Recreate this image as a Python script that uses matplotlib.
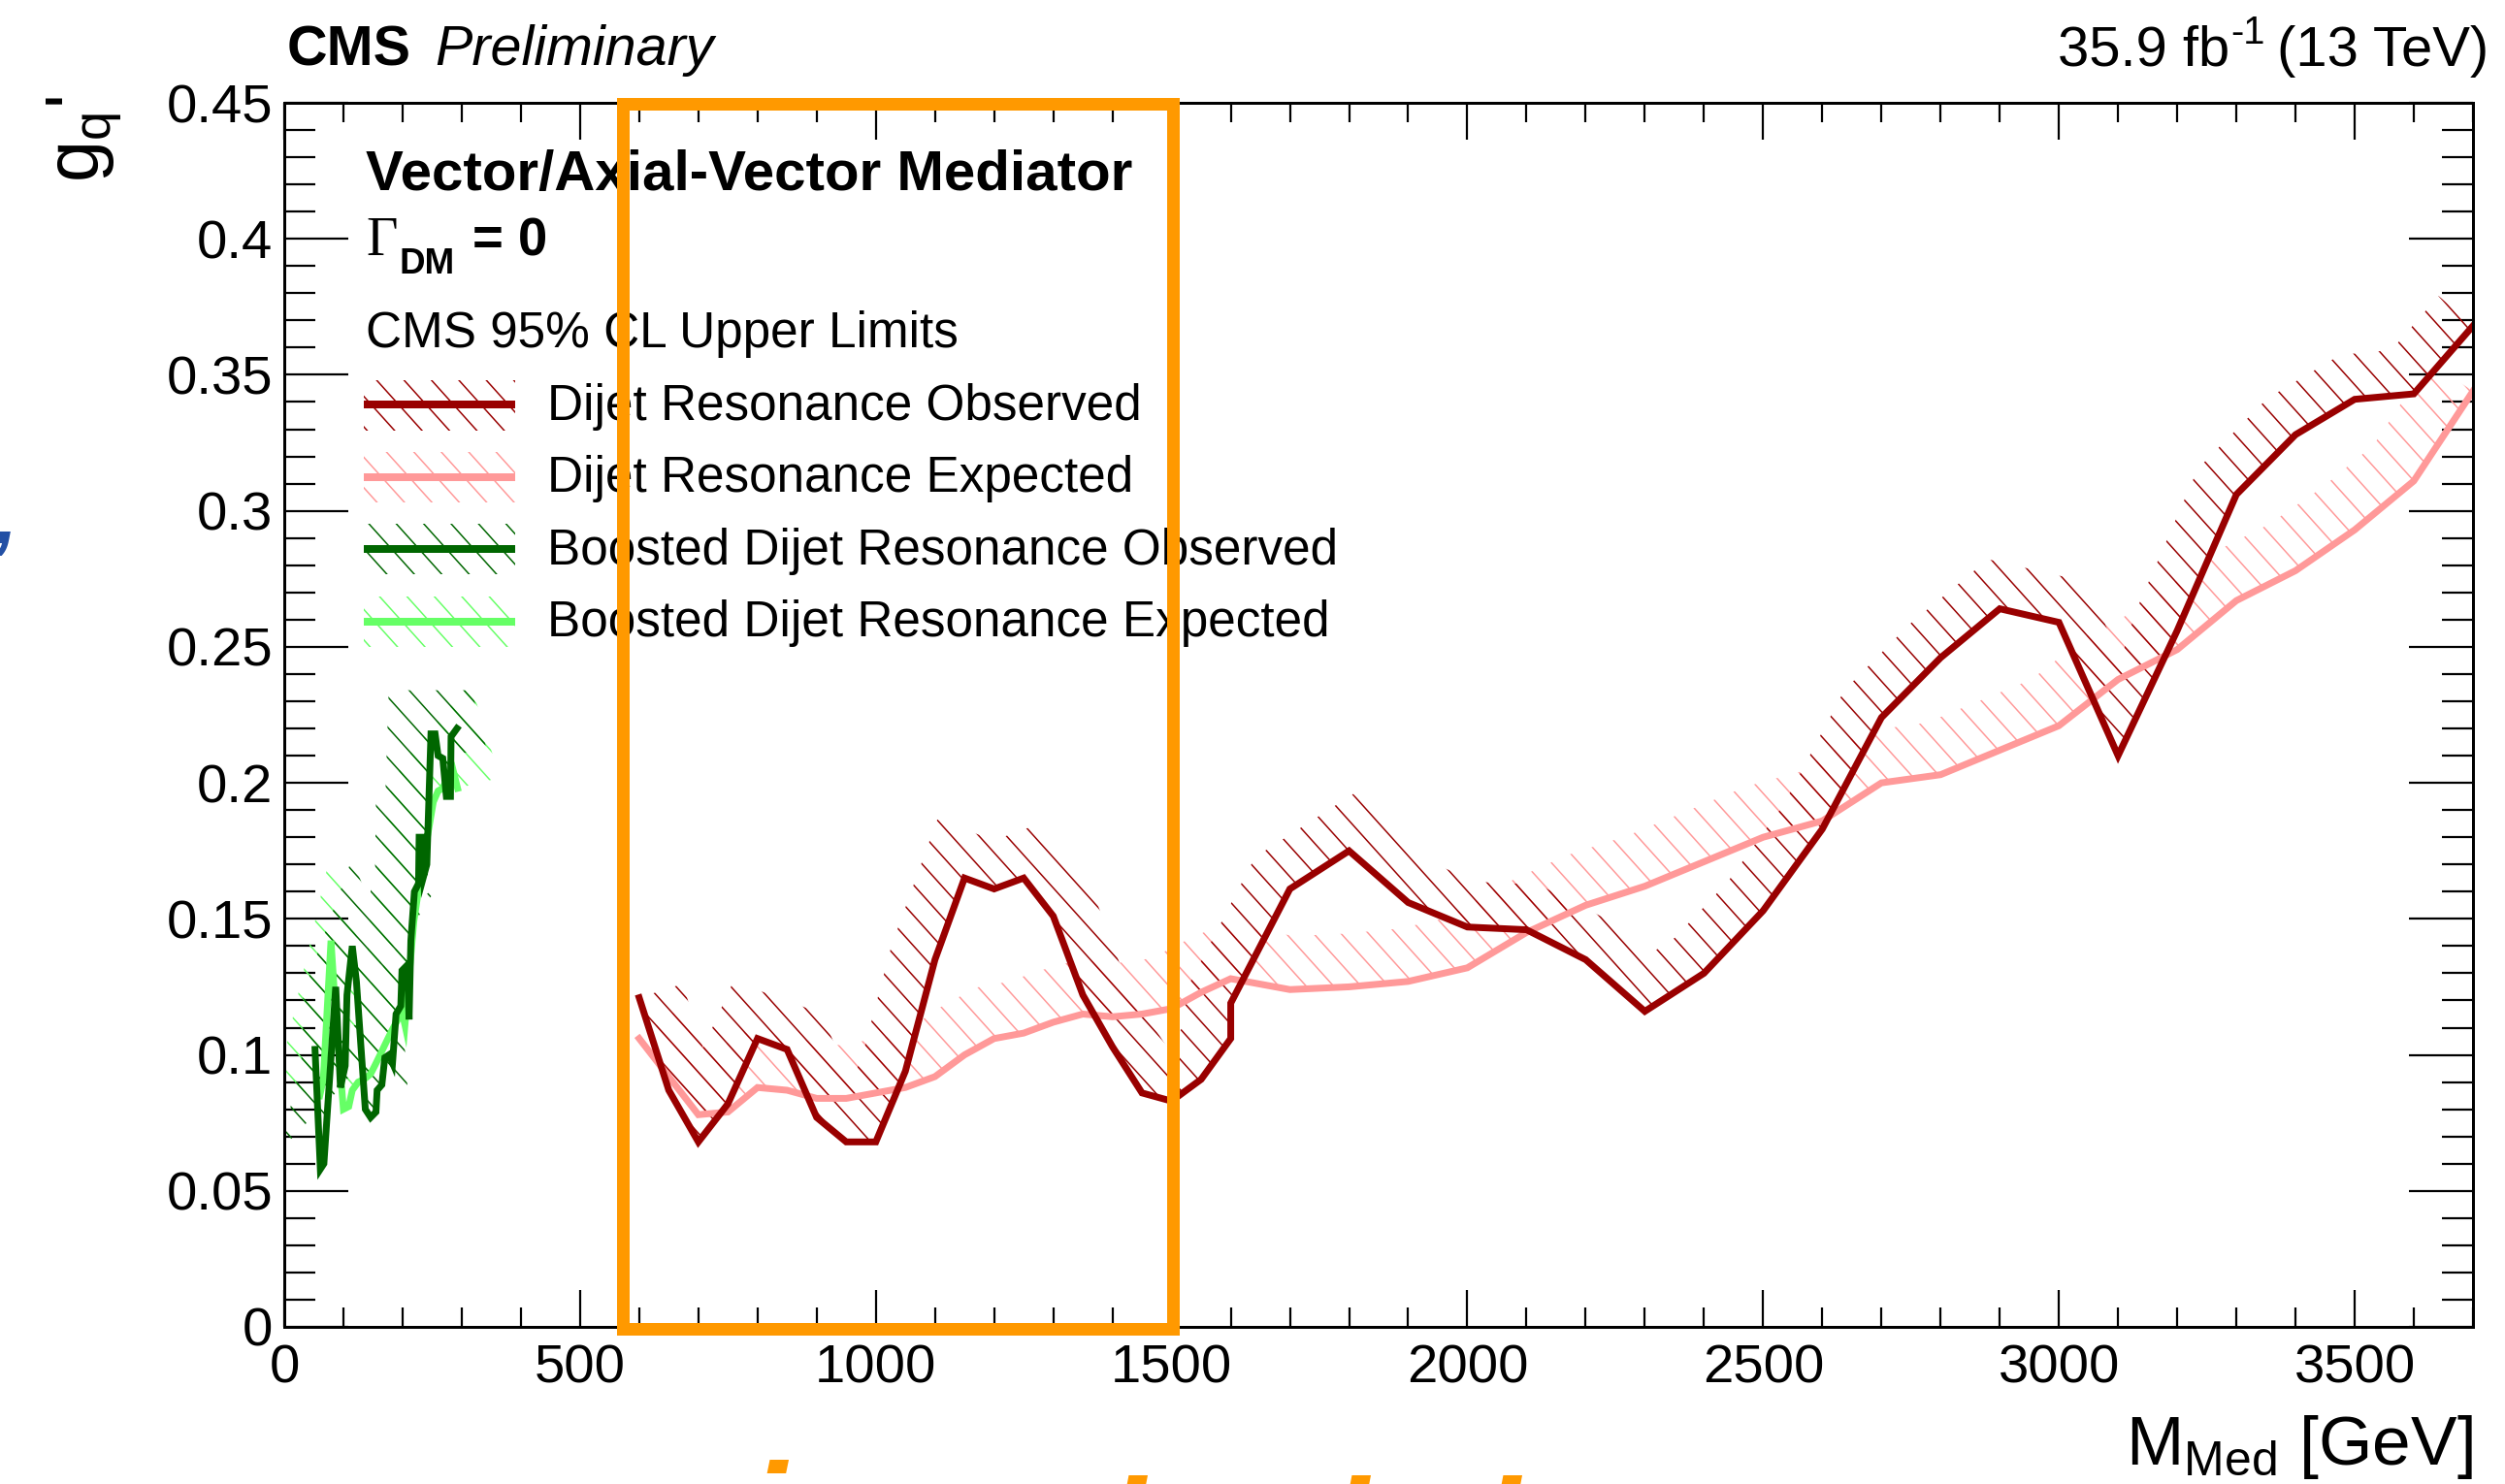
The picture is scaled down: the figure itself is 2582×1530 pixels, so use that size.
import numpy as np
import matplotlib
matplotlib.use("Agg")
import matplotlib.pyplot as plt
from matplotlib.patches import Polygon, Rectangle
from matplotlib.lines import Line2D
from matplotlib.collections import LineCollection
from matplotlib.transforms import IdentityTransform
from matplotlib.ticker import MultipleLocator, FuncFormatter

# ---------------- data ----------------
dijet_obs_mass = [600, 650, 700, 750, 800, 850, 900, 950, 1000, 1050, 1100, 1150, 1200,
                  1250, 1300, 1350, 1400, 1450, 1500, 1550, 1600, 1600, 1700, 1800, 1900,
                  2000, 2100, 2200, 2300, 2400, 2500, 2600, 2700, 2800, 2900, 3000, 3100,
                  3200, 3300, 3400, 3500, 3600, 3700]
dijet_obs_gq = [0.121, 0.087, 0.068, 0.082, 0.106, 0.102, 0.077, 0.068, 0.068, 0.094, 0.135,
                0.165, 0.161, 0.165, 0.151, 0.122, 0.103, 0.086, 0.083, 0.091, 0.106, 0.119,
                0.161, 0.175, 0.156, 0.147, 0.146, 0.135, 0.116, 0.130, 0.153, 0.183, 0.224,
                0.246, 0.264, 0.259, 0.210, 0.256, 0.306, 0.328, 0.341, 0.343, 0.368]

dijet_exp_mass = [600, 650, 700, 750, 800, 850, 900, 950, 1000, 1050, 1100, 1150, 1200,
                  1250, 1300, 1350, 1400, 1450, 1500, 1550, 1600, 1700, 1800, 1900, 2000,
                  2100, 2200, 2300, 2400, 2500, 2600, 2700, 2800, 2900, 3000, 3100, 3200,
                  3300, 3400, 3500, 3600, 3700]
dijet_exp_gq = [0.106, 0.092, 0.078, 0.079, 0.088, 0.087, 0.084, 0.084, 0.086, 0.088, 0.092,
                0.100, 0.106, 0.108, 0.112, 0.115, 0.114, 0.115, 0.117, 0.123, 0.128, 0.124,
                0.125, 0.127, 0.132, 0.145, 0.155, 0.162, 0.171, 0.180, 0.186, 0.200, 0.203,
                0.212, 0.221, 0.238, 0.249, 0.267, 0.278, 0.293, 0.311, 0.344]

boosted_obs_mass = [52, 61, 67, 87, 95, 103, 106, 115, 122, 129, 137, 146, 155, 157, 165, 170,
                    177, 183, 189, 197, 199, 208, 211, 214, 220, 227, 228, 234, 236, 241, 248,
                    255, 260, 268, 274, 281, 282, 292]
boosted_obs_gq = [0.102, 0.058, 0.060, 0.125, 0.088, 0.096, 0.122, 0.140, 0.127, 0.105, 0.080,
                  0.077, 0.079, 0.087, 0.089, 0.099, 0.100, 0.097, 0.115, 0.118, 0.131, 0.133,
                  0.113, 0.142, 0.160, 0.163, 0.180, 0.180, 0.166, 0.170, 0.218, 0.218, 0.210,
                  0.209, 0.195, 0.195, 0.217, 0.220]

boosted_exp_mass = [60, 66, 79, 87, 100, 109, 115, 125, 135, 146, 153, 162, 173, 182, 192, 199,
                    204, 209, 219, 230, 241, 252, 260, 268, 278, 285, 293]
boosted_exp_gq = [0.085, 0.091, 0.142, 0.115, 0.080, 0.081, 0.087, 0.090, 0.091, 0.093, 0.096,
                  0.100, 0.105, 0.109, 0.113, 0.116, 0.111, 0.124, 0.149, 0.165, 0.179, 0.193,
                  0.197, 0.198, 0.203, 0.205, 0.198]

legend_labels = ["Dijet Resonance Observed", "Dijet Resonance Expected",
                 "Boosted Dijet Resonance Observed", "Boosted Dijet Resonance Expected"]
x_ticks = [0, 500, 1000, 1500, 2000, 2500, 3000, 3500]

# ---------------- style ----------------
C_OBS = "#990000"
C_EXP = "#FF9999"
C_BOBS = "#006600"
C_BEXP = "#66FF66"
C_BOX = "#FF9900"

W, H, DPI = 2582, 1530, 180
PX = 72.0 / DPI  # points per pixel
HATCH_ANGLE = 48.0
HATCH_SPACING = 21.0
HATCH_LW = 1.5

plt.rcParams["font.family"] = ["Liberation Sans", "DejaVu Sans"]
plt.rcParams["mathtext.fontset"] = "custom"
plt.rcParams["mathtext.rm"] = "Liberation Sans"
plt.rcParams["mathtext.it"] = "Liberation Sans:italic"
plt.rcParams["mathtext.bf"] = "Liberation Sans:bold"

fig = plt.figure(figsize=(W / DPI, H / DPI), dpi=DPI)
fig.patch.set_facecolor("white")


def fx(px):
    return px / W


def fy(py):
    return 1.0 - py / H


ax = fig.add_axes([fx(293), fy(1368), (2549 - 293) / W, (1368 - 106) / H])
ax.set_xlim(0, 3700)
ax.set_ylim(0, 0.45)
for s in ax.spines.values():
    s.set_linewidth(3 * PX)
    s.set_zorder(8)

ax.set_xticks(x_ticks)
ax.xaxis.set_minor_locator(MultipleLocator(100))
ax.yaxis.set_major_locator(MultipleLocator(0.05))
ax.yaxis.set_minor_locator(MultipleLocator(0.01))
ax.yaxis.set_major_formatter(FuncFormatter(lambda v, p: f"{v:g}"))
ax.xaxis.set_major_formatter(FuncFormatter(lambda v, p: f"{v:g}"))
ax.tick_params(which="both", direction="in", top=True, right=True, width=2.2 * PX,
               labelsize=22.5)
ax.tick_params(axis="x", which="major", length=38 * PX, pad=17 * PX)
ax.tick_params(axis="x", which="minor", length=20 * PX)
ax.tick_params(axis="y", which="major", length=66 * PX, pad=12 * PX)
ax.tick_params(axis="y", which="minor", length=32 * PX)


def hatch_lines(bb, color):
    """Parallel hatch strokes (display pixels) covering the display box bb."""
    th = np.radians(HATCH_ANGLE)
    u = np.array([np.cos(th), -np.sin(th)])
    v = np.array([np.sin(th), np.cos(th)])
    corners = np.array([[bb.x0, bb.y0], [bb.x1, bb.y0], [bb.x0, bb.y1], [bb.x1, bb.y1]])
    cs = corners @ v
    centre = np.array([(bb.x0 + bb.x1) / 2, (bb.y0 + bb.y1) / 2])
    big = bb.width + bb.height
    segs = []
    for c in np.arange(np.floor(cs.min() / HATCH_SPACING) * HATCH_SPACING,
                       cs.max() + HATCH_SPACING, HATCH_SPACING):
        p = c * v
        pc = p + np.dot(centre - p, u) * u
        segs.append([pc - big * u, pc + big * u])
    return LineCollection(segs, colors=color, linewidths=HATCH_LW * PX,
                          transform=IdentityTransform())


def hatch_band(x, y, color, d_px, zorder=2):
    pts = ax.transData.transform(np.column_stack([x, y]))
    seg = np.diff(pts, axis=0)
    L = np.hypot(seg[:, 0], seg[:, 1])
    t = seg / L[:, None]
    n = np.column_stack([-t[:, 1], t[:, 0]])
    vn = np.zeros_like(pts)
    vn[0] = n[0]
    vn[-1] = n[-1]
    for i in range(1, len(pts) - 1):
        s = n[i - 1] + n[i]
        nm = np.hypot(*s)
        if nm < 1e-6:
            vn[i] = n[i]
        else:
            s = s / nm
            c = max(np.dot(s, n[i]), 0.5)
            vn[i] = s / c
    off = pts + d_px * vn
    poly = np.vstack([pts, off[::-1]])
    poly_data = ax.transData.inverted().transform(poly)
    patch = Polygon(poly_data, closed=True, facecolor="none", edgecolor="none",
                    linewidth=0, transform=ax.transData)
    ax.add_patch(patch)
    lc = hatch_lines(ax.bbox, color)
    lc.set_zorder(zorder)
    ax.add_collection(lc, autolim=False)
    lc.set_clip_path(patch)
    lc.set_clip_box(ax.bbox)


hatch_band(dijet_exp_mass, dijet_exp_gq, C_EXP, 55)
hatch_band(dijet_obs_mass, dijet_obs_gq, C_OBS, 47)
hatch_band(boosted_exp_mass, boosted_exp_gq, C_BEXP, 45)
hatch_band(boosted_obs_mass, boosted_obs_gq, C_BOBS, 45)

LW = 7 * PX
ax.plot(dijet_exp_mass, dijet_exp_gq, color=C_EXP, lw=LW, solid_joinstyle="miter", zorder=3)
ax.plot(dijet_obs_mass, dijet_obs_gq, color=C_OBS, lw=LW, solid_joinstyle="miter", zorder=4)
ax.plot(boosted_exp_mass, boosted_exp_gq, color=C_BEXP, lw=LW, solid_joinstyle="miter", zorder=5)
ax.plot(boosted_obs_mass, boosted_obs_gq, color=C_BOBS, lw=LW, solid_joinstyle="miter", zorder=6)

# ---------------- texts ----------------
rend = fig.canvas.get_renderer()
fig.text(fx(296), fy(67), "CMS", fontsize=23, fontweight="bold", va="baseline")
fig.text(fx(448), fy(67), "Preliminary", fontsize=23, style="italic", va="baseline")

t3 = fig.text(fx(2565), fy(68), "(13 TeV)", fontsize=23.2, ha="right", va="baseline")
b3 = t3.get_window_extent(rend)
t2 = fig.text((b3.x0 - 12) / W, fy(45), "-1", fontsize=16, ha="right", va="baseline")
b2 = t2.get_window_extent(rend)
fig.text((b2.x0 - 1) / W, fy(68), "35.9 fb", fontsize=23.2, ha="right", va="baseline")

fig.text(fx(2549), fy(1510), r"M$_{\rm Med}$ [GeV]", fontsize=28.5, ha="right", va="baseline")
fig.text(fx(47), fy(99), r"g$_{\rm q}$'", fontsize=31, rotation=90,
         ha="left", va="top")

fig.text(fx(377), fy(196), "Vector/Axial-Vector Mediator", fontsize=23.3,
         fontweight="bold", va="baseline")
fig.text(fx(377), fy(263), "\u0393", fontsize=22.5, family="Liberation Serif", va="baseline")
fig.text(fx(412), fy(282), "DM", fontsize=14.7, fontweight="bold", va="baseline")
fig.text(fx(487), fy(264), "= 0", fontsize=21.8, fontweight="bold", va="baseline")
fig.text(fx(377), fy(358), "CMS 95% CL Upper Limits", fontsize=20.5, va="baseline")

leg_colors = [C_OBS, C_EXP, C_BOBS, C_BEXP]
for i, (lab, col) in enumerate(zip(legend_labels, leg_colors)):
    yc = 417.5 + i * 74.4
    r = Rectangle((fx(375), fy(yc + 26)), (531 - 375) / W, 52 / H,
                  transform=fig.transFigure, facecolor="none", edgecolor="none",
                  linewidth=0)
    fig.add_artist(r)
    rb = r.get_window_extent(rend)
    lc = hatch_lines(rb, col)
    fig.add_artist(lc)
    lc.set_clip_path(r)
    fig.add_artist(Line2D([fx(375), fx(531)], [fy(yc), fy(yc)], transform=fig.transFigure,
                          color=col, lw=8 * PX, solid_capstyle="butt"))
    fig.text(fx(564), fy(yc + 15.5), lab, fontsize=20.5, va="baseline")

# orange highlight box (slide annotation)
fig.add_artist(Rectangle((fx(642), fy(1370)), (1209 - 642) / W, (1370 - 107) / H,
                         transform=fig.transFigure, fill=False, edgecolor=C_BOX,
                         lw=13 * PX, joinstyle="miter", zorder=10))

# slide text fragments at the edges
fig.text(fx(-5), fy(560), ",", fontsize=33, fontweight="bold", style="italic",
         color="#2350A5", va="baseline")
for ch, xl, base in [("i", 771, 1609), ("l", 1141, 1625), ("l", 1371, 1625), ("l", 1527, 1625)]:
    fig.text(fx(xl), fy(base), ch, fontsize=57, fontweight="bold", style="italic",
             color=C_BOX, va="baseline")

fig.savefig("out.png", dpi=DPI, facecolor="white")
